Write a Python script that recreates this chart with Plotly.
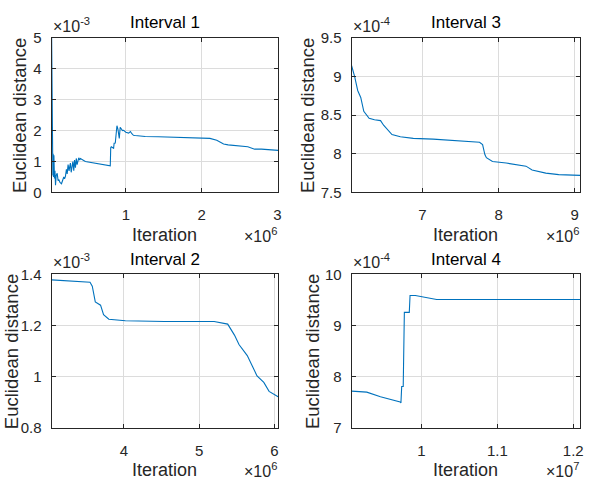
import plotly.graph_objects as go

# ---------------- data (iteration in units of the axis multiplier) ----------------
# Interval 1: iteration ×1e6, distance ×1e-3
int1_iter = [0.020, 0.024, 0.028, 0.032, 0.036, 0.040, 0.044, 0.050, 0.057, 0.064,
             0.071, 0.080, 0.093, 0.105, 0.114, 0.130, 0.150, 0.165, 0.180, 0.190,
             0.202, 0.215, 0.225, 0.237, 0.250, 0.260, 0.268, 0.278, 0.290, 0.300,
             0.312, 0.322, 0.334, 0.345, 0.356, 0.366, 0.378, 0.390, 0.400, 0.465,
             0.600, 0.794, 0.800, 0.807, 0.838, 0.845, 0.860, 0.882, 0.895, 0.913,
             0.925, 0.939, 0.955, 0.970, 1.000, 1.036, 1.060, 1.079, 1.100, 1.123,
             1.200, 1.255, 1.430, 1.600, 1.800, 2.000, 2.110, 2.200, 2.290, 2.350,
             2.610, 2.700, 2.790, 3.010]
int1_dist = [5.00, 3.45, 4.20, 1.20, 0.55, 1.25, 0.50, 1.20, 0.45, 0.70,
             0.23, 0.55, 0.62, 0.38, 0.42, 0.32, 0.28, 0.42, 0.50, 0.44,
             0.52, 0.75, 0.60, 0.90, 0.70, 0.85, 0.95, 0.65, 0.90, 1.00,
             0.70, 1.05, 0.80, 1.10, 0.90, 1.05, 1.12, 1.05, 1.10, 1.00,
             0.95, 0.86, 1.45, 1.48, 1.43, 1.59, 1.60, 2.16, 2.05, 1.75,
             2.11, 2.05, 2.00, 2.01, 1.95, 1.92, 1.97, 1.90, 1.85, 1.84,
             1.82, 1.81, 1.80, 1.79, 1.77, 1.75, 1.75, 1.69, 1.57, 1.54,
             1.48, 1.40, 1.40, 1.36]

# Interval 2: iteration ×1e6, distance ×1e-3
int2_iter = [3.04, 3.31, 3.55, 3.58, 3.62, 3.69, 3.73, 3.80, 4.02, 4.54,
             5.20, 5.38, 5.47, 5.53, 5.64, 5.71, 5.77, 5.86, 5.93, 6.05]
int2_dist = [1.379, 1.375, 1.370, 1.354, 1.293, 1.280, 1.243, 1.225, 1.219, 1.216,
             1.216, 1.206, 1.163, 1.126, 1.083, 1.040, 1.003, 0.978, 0.943, 0.922]

# Interval 3: iteration ×1e6, distance ×1e-4
int3_iter = [6.07, 6.11, 6.15, 6.19, 6.23, 6.26, 6.30, 6.37, 6.45, 6.49,
             6.54, 6.60, 6.71, 6.88, 7.14, 7.45, 7.75, 7.79, 7.82, 7.84,
             7.92, 8.10, 8.36, 8.44, 8.62, 8.79, 9.07]
int3_dist = [9.14, 9.00, 8.82, 8.73, 8.55, 8.51, 8.46, 8.44, 8.43, 8.37,
             8.31, 8.25, 8.22, 8.20, 8.19, 8.17, 8.15, 8.12, 7.99, 7.95,
             7.90, 7.88, 7.84, 7.79, 7.75, 7.73, 7.72]

# Interval 4: iteration ×1e7, distance ×1e-4
int4_iter = [0.908, 0.928, 0.946, 0.972, 0.973, 0.974, 0.976, 0.9775, 0.984, 0.985,
             0.992, 1.020, 1.042, 1.209]
int4_dist = [7.72, 7.70, 7.61, 7.51, 7.49, 7.81, 7.81, 9.26, 9.26, 9.59,
             9.59, 9.51, 9.51, 9.51]

titles = ["Interval 1", "Interval 2", "Interval 3", "Interval 4"]
x_multipliers = ["6", "6", "6", "7"]
y_multipliers = ["-3", "-3", "-4", "-4"]
x_ticks = [[1, 2, 3], [4, 5, 6], [7, 8, 9], [1.0, 1.1, 1.2]]
y_ticks = [[0, 1, 2, 3, 4, 5], [0.8, 1.0, 1.2, 1.4], [7.5, 8, 8.5, 9, 9.5], [7, 8, 9, 10]]
x_ranges = [[0.020, 3.01], [3.04, 6.05], [6.07, 9.07], [0.908, 1.209]]
y_ranges = [[0, 5.0005], [0.8, 1.4001], [7.5, 9.5002], [7, 10.0005]]
series = [(int1_iter, int1_dist), (int2_iter, int2_dist),
          (int3_iter, int3_dist), (int4_iter, int4_dist)]

# ---------------- layout geometry ----------------
W, H = 592, 490
# plot boxes in pixels: (left, right, top, bottom)
boxes = [(52, 280, 30, 190), (52, 280, 275, 434), (354, 584, 30, 190), (354, 584, 275, 434)]
ylabel_offsets = [33, 41, 45, 40]

def px(x):
    return x / W

def py(y):
    return 1 - y / H

LINE = "#0072BD"
AX = "#262626"
GRID = "#dcdcdc"
FONT = "Liberation Sans, Arial, sans-serif"

fig = go.Figure()
layout = dict(
    width=W, height=H,
    margin=dict(l=0, r=0, t=0, b=0),
    paper_bgcolor="white", plot_bgcolor="white",
    showlegend=False,
    font=dict(family=FONT, color=AX, size=15),
)
annotations = []

for i, ((l, r, t, b), (xs, ys)) in enumerate(zip(boxes, series)):
    n = "" if i == 0 else str(i + 1)
    xa, ya = "xaxis" + n, "yaxis" + n
    fig.add_trace(go.Scatter(x=xs, y=ys, mode="lines",
                             line=dict(color=LINE, width=1.1),
                             xaxis="x" + n, yaxis="y" + n))
    common = dict(showline=True, linecolor=AX, linewidth=1, mirror="ticks",
                  ticks="inside", ticklen=4, tickcolor=AX, showgrid=True,
                  gridcolor=GRID, gridwidth=1, zeroline=False,
                  tickfont=dict(family=FONT, size=15, color=AX))
    layout[xa] = dict(domain=[px(l), px(r)], range=x_ranges[i],
                      tickvals=x_ticks[i], anchor="y" + n,
                      ticklabelstandoff=9, **common)
    layout[ya] = dict(domain=[py(b), py(t)], range=y_ranges[i],
                      tickvals=y_ticks[i], anchor="x" + n,
                      ticklabelstandoff=6, **common)
    cx = (l + r) / 2
    cy = (t + b) / 2
    # title
    annotations.append(dict(text=titles[i], x=px(cx), y=py(t - 16), xref="paper", yref="paper",
                            xanchor="center", yanchor="middle", showarrow=False,
                            font=dict(family=FONT, size=17, color="#000000")))
    # y label
    annotations.append(dict(text="Euclidean distance", x=px(l - ylabel_offsets[i]), y=py(cy),
                            xref="paper", yref="paper", xanchor="center", yanchor="middle",
                            textangle=-90, showarrow=False,
                            font=dict(family=FONT, size=18.5, color=AX)))
    # x label
    annotations.append(dict(text="Iteration", x=px(cx), y=py(b + 44), xref="paper", yref="paper",
                            xanchor="center", yanchor="middle", showarrow=False,
                            font=dict(family=FONT, size=18, color=AX)))
    # y multiplier
    annotations.append(dict(text="×10<sup>" + y_multipliers[i] + "</sup>", x=px(l - 1), y=py(t - 1),
                            xref="paper", yref="paper", xanchor="left", yanchor="bottom",
                            showarrow=False, font=dict(family=FONT, size=16, color=AX)))
    # x multiplier
    annotations.append(dict(text="×10<sup>" + x_multipliers[i] + "</sup>", x=px(r + 1), y=py(b + 44),
                            xref="paper", yref="paper", xanchor="right", yanchor="middle",
                            showarrow=False, font=dict(family=FONT, size=16, color=AX)))

layout["annotations"] = annotations
fig.update_layout(**layout)
fig.write_html("out.html")
